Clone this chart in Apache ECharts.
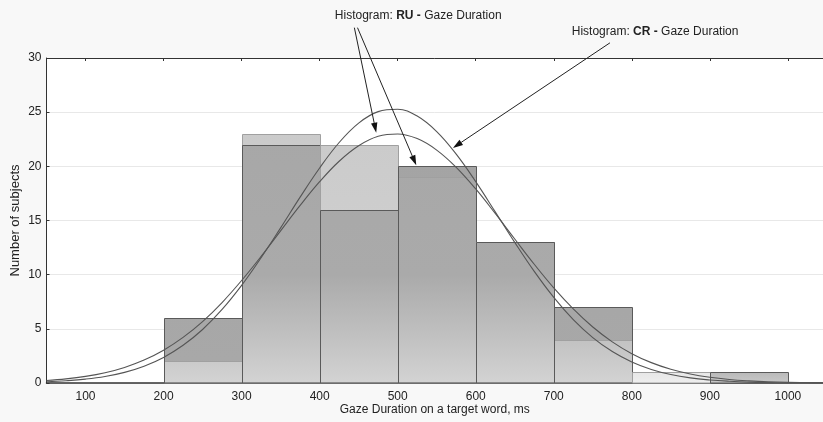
<!DOCTYPE html>
<html><head><meta charset="utf-8">
<script src="https://cdn.jsdelivr.net/npm/echarts@6/dist/echarts.min.js"></script>
<style>html,body{margin:0;padding:0;background:#f8f8f8}#c{width:823px;height:422px}</style>
</head><body><div id="c"></div>
<script>
// ---- data ----
const binStarts = [200, 300, 400, 500, 600, 700, 800, 900];
const binEnds   = [300, 400, 500, 600, 700, 800, 900, 1000];
const ruCounts  = [6, 22, 16, 20, 13, 7, 0, 1];
const crCounts  = [2, 23, 22, 19, 13, 4, 1, 0];
const curveX    = [50, 75, 100, 125, 150, 175, 200, 225, 250, 275, 300, 325, 350, 375, 400, 425, 450, 475, 500, 525, 550, 575, 600, 625, 650, 675, 700, 725, 750, 775, 800, 825, 850, 875, 900, 925, 950, 975, 1000, 1025, 1050];
const ruCurve   = [0.23, 0.38, 0.61, 0.95, 1.44, 2.12, 3.03, 4.21, 5.67, 7.43, 9.46, 11.69, 14.05, 16.39, 18.58, 20.47, 21.90, 22.77, 22.99, 22.56, 21.50, 19.91, 17.91, 15.65, 13.29, 10.96, 8.78, 6.84, 5.17, 3.80, 2.71, 1.88, 1.27, 0.83, 0.53, 0.33, 0.20, 0.11, 0.06, 0.04, 0.02];
const crCurve   = [0.11, 0.21, 0.36, 0.60, 0.98, 1.55, 2.36, 3.48, 4.94, 6.79, 9.01, 11.56, 14.32, 17.16, 19.85, 22.20, 23.99, 25.05, 25.27, 24.64, 23.21, 21.13, 18.59, 15.80, 12.98, 10.30, 7.90, 5.85, 4.19, 2.90, 1.94, 1.25, 0.78, 0.47, 0.28, 0.16, 0.08, 0.04, 0.02, 0.01, 0.01];
const xTickLabels = [100, 200, 300, 400, 500, 600, 700, 800, 900, 1000];
const yTickStep = 5;
// annotation anchors (data coordinates): [start, tip]
const ruArrows = [[[444.5, 32.8], [472.5, 23.1]], [[448.5, 32.8], [523.8, 20.1]]];
const crArrow  = [[772, 31.4], [570.8, 21.7]];
const ruLabelPos = [419.5, 33.9];
const crLabelPos = [723, 32.4];

const chart = echarts.init(document.getElementById('c'), null, {renderer: 'canvas'});

const binData = binStarts.map((s, i) => [s, binEnds[i], ruCounts[i], crCounts[i]]);

function renderBins(params, api) {
  const s = api.value(0), e = api.value(1), ru = api.value(2), cr = api.value(3);
  const ov = Math.min(ru, cr);
  const top = api.coord([s, 30])[1], bot = api.coord([s, 0])[1];
  const x0 = Math.round(api.coord([s, 0])[0]) + 0.5, x1 = Math.round(api.coord([e, 0])[0]) + 0.5;
  function rect(v) { const y = Math.round(api.coord([s, v])[1]) + 0.5; return {x: x0, y: y, width: x1 - x0, height: bot - y}; }
  function grad(stops) { return new echarts.graphic.LinearGradient(0, top, 0, bot, stops, true); }
  const ruFill = grad([{offset: 0, color: '#a2a2a2'}, {offset: 0.93, color: '#a8a8a8'}, {offset: 1, color: '#c8c8c8'}]);
  const crFill = grad([{offset: 0, color: '#c8c8c8'}, {offset: 0.87, color: '#d2d2d2'}, {offset: 1, color: '#eeeeee'}]);
  const ovFill = grad([{offset: 0, color: '#a6a6a6'}, {offset: 0.667, color: '#aaaaaa'}, {offset: 0.867, color: '#c2c2c2'}, {offset: 1, color: '#d3d3d3'}]);
  const ch = [];
  if (ru > 0) ch.push({type: 'rect', shape: rect(ru), style: {fill: ruFill}});
  if (cr > 0) ch.push({type: 'rect', shape: rect(cr), style: {fill: crFill}});
  if (ov > 0) ch.push({type: 'rect', shape: rect(ov), style: {fill: ovFill}});
  if (cr > 0) ch.push({type: 'rect', shape: rect(cr), style: {fill: null, stroke: '#a0a0a0', lineWidth: 1}});
  if (ru > 0) ch.push({type: 'rect', shape: rect(ru), style: {fill: null, stroke: '#5a5a5a', lineWidth: 1}});
  return {type: 'group', children: ch};
}

const font = 'Liberation Sans, Arial, sans-serif';

chart.setOption({
  backgroundColor: '#f8f8f8',
  animation: false,
  grid: {left: 46.5, right: 0, top: 58, bottom: 39, show: true, backgroundColor: '#ffffff', borderWidth: 0, containLabel: false, outerBoundsMode: 'none'},
  xAxis: [{
    type: 'value', min: 50, max: 1045, position: 'bottom',
    axisLine: {show: true, onZero: false, lineStyle: {color: '#333', width: 1.5}},
    axisTick: {show: false},
    axisLabel: {customValues: xTickLabels, color: '#222', fontSize: 12, fontFamily: font, margin: 8, formatter: v => String(v)},
    splitLine: {show: false},
    name: 'Gaze Duration on a target word, ms', nameLocation: 'middle', nameGap: 20.5, nameMoveOverlap: false,
    nameTextStyle: {color: '#222', fontSize: 12, fontFamily: font}
  }, {
    type: 'value', min: 50, max: 1045, position: 'top',
    axisLine: {show: true, onZero: false, lineStyle: {color: '#333', width: 1}},
    axisTick: {show: true, inside: true, length: 3, customValues: xTickLabels, lineStyle: {color: '#333'}},
    axisLabel: {show: false},
    splitLine: {show: false}
  }],
  yAxis: {
    type: 'value', min: 0, max: 30, interval: yTickStep,
    axisLine: {show: true, lineStyle: {color: '#333', width: 1}},
    axisTick: {show: true, inside: true, length: 3, lineStyle: {color: '#333'}},
    axisLabel: {color: '#222', fontSize: 12, fontFamily: font, margin: 5},
    splitLine: {show: true, lineStyle: {color: '#e8e8e8', width: 1}},
    name: 'Number of subjects', nameLocation: 'middle', nameGap: 25, nameMoveOverlap: false,
    nameTextStyle: {color: '#222', fontSize: 13, fontFamily: font}
  },
  series: [{
    type: 'custom', xAxisIndex: 0, yAxisIndex: 0,
    renderItem: renderBins, data: binData, z: 2,
    encode: {x: [0, 1], y: [2, 3]}
  }, {
    type: 'line', name: 'RU', xAxisIndex: 0, yAxisIndex: 0, smooth: 0.4, symbol: 'none', z: 5,
    lineStyle: {color: '#555', width: 1.1},
    data: curveX.map((x, i) => [x, ruCurve[i]])
  }, {
    type: 'line', name: 'CR', xAxisIndex: 0, yAxisIndex: 0, smooth: 0.4, symbol: 'none', z: 5,
    lineStyle: {color: '#555', width: 1.1},
    data: curveX.map((x, i) => [x, crCurve[i]])
  }]
});

function px(p) { return chart.convertToPixel({seriesIndex: 1}, p); }
function arrow(a, b) {
  const p0 = px(a), p1 = px(b);
  const dx = p1[0] - p0[0], dy = p1[1] - p0[1], L = Math.hypot(dx, dy);
  const ux = dx / L, uy = dy / L, hl = 10, hw = 3.2;
  const bx = p1[0] - ux * hl, by = p1[1] - uy * hl;
  return [
    {type: 'line', shape: {x1: p0[0], y1: p0[1], x2: bx, y2: by}, style: {stroke: '#222', lineWidth: 1}, z: 100},
    {type: 'polygon', shape: {points: [[p1[0], p1[1]], [bx - uy * hw, by + ux * hw], [bx + uy * hw, by - ux * hw]]}, style: {fill: '#111'}, z: 100}
  ];
}
const g = [];
ruArrows.forEach(r => g.push(...arrow(r[0], r[1])));
g.push(...arrow(crArrow[0], crArrow[1]));
const rp = px(ruLabelPos), cp = px(crLabelPos);
const rich = {n: {fontSize: 12, fontFamily: font, fill: '#222'}, b: {fontSize: 12, fontFamily: font, fontWeight: 'bold', fill: '#222'}};
g.push({type: 'text', z: 100, style: {x: rp[0], y: rp[1], text: '{n|Histogram: }{b|RU - }{n|Gaze Duration}', rich: rich, verticalAlign: 'middle', align: 'left'}});
g.push({type: 'text', z: 100, style: {x: cp[0], y: cp[1], text: '{n|Histogram: }{b|CR - }{n|Gaze Duration}', rich: rich, verticalAlign: 'middle', align: 'left'}});
chart.setOption({graphic: g});
</script>
</body></html>
